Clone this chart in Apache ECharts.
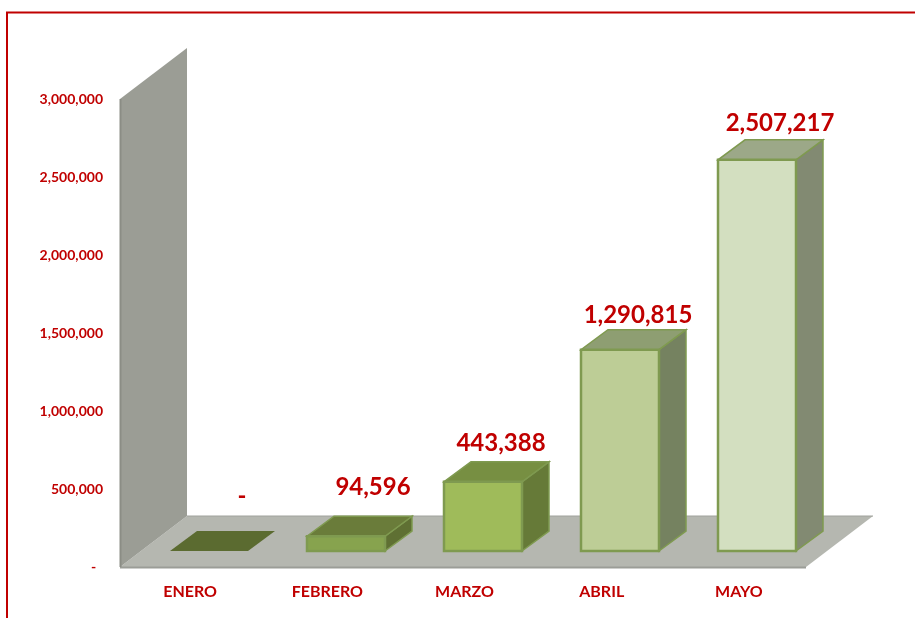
<!DOCTYPE html>
<html>
<head>
<meta charset="utf-8">
<style>
  html, body { margin: 0; padding: 0; background: #fff; }
  #chart { width: 915px; height: 618px; }
</style>
</head>
<body>
<div id="chart"></div>
<script src="https://cdn.jsdelivr.net/npm/echarts@6/dist/echarts.min.js"></script>
<script>
const months = ['ENERO', 'FEBRERO', 'MARZO', 'ABRIL', 'MAYO']
const values = [0, 94596, 443388, 1290815, 2507217]
const valueLabels = ['-', '94,596', '443,388', '1,290,815', '2,507,217']
const yTicks = [0, 500000, 1000000, 1500000, 2000000, 2500000, 3000000]

const RED = '#c00000'
const FONT = 'Lato, "Open Sans", sans-serif'

// colours per bar: front, top, side
const frontColors = ['#5b6b30', '#87a34e', '#9fbb5a', '#bdcd96', '#d3dfc0']
const topColors = ['#5b6b30', '#6a7c3a', '#778f42', '#8e9e72', '#9ca888']
const sideColors = ['#5b6b30', '#5f7033', '#667a38', '#758260', '#828a72']
const edgeColor = '#7f9a50'

// fake 3d offsets, in px
const floorDepth = { x: 67, y: 51 }
const barDepth = { x: 27, y: 20 }
const barLift = 16
const barShift = 20
const barWidth = 78
const labelShift = [33, 27, 18, 18, 23]
const labelGap = [35, 29, 19, 14, 17]

function poly(points, fill, stroke, lineWidth) {
  return {
    type: 'polygon',
    shape: { points: points },
    style: { fill: fill, stroke: stroke || null, lineWidth: lineWidth || 0 }
  }
}

function renderRoom(params) {
  const g = params.coordSys
  const left = g.x
  const right = g.x + g.width
  const top = g.y
  const bottom = g.y + g.height
  const dx = floorDepth.x
  const dy = floorDepth.y
  return {
    type: 'group',
    children: [
      poly([[left, bottom], [right, bottom], [right + dx, bottom - dy], [left + dx, bottom - dy]], '#b5b7b0'),
      poly([[left, bottom], [left, top], [left + dx, top - dy], [left + dx, bottom - dy]], '#9b9d95'),
      { type: 'line', shape: { x1: left + dx, y1: bottom - dy, x2: right + dx, y2: bottom - dy }, style: { stroke: '#a0a29c', lineWidth: 1 } },
      { type: 'line', shape: { x1: left, y1: bottom + 0.5, x2: right, y2: bottom + 0.5 }, style: { stroke: '#9b9d97', lineWidth: 2 } },
      { type: 'line', shape: { x1: left + 0.5, y1: bottom, x2: left + 0.5, y2: top }, style: { stroke: '#8b8d85', lineWidth: 2 } }
    ]
  }
}

function renderBar(params, api) {
  const i = params.dataIndex
  const pt = api.coord([api.value(0), api.value(1)])
  const x0 = Math.round(pt[0] + barShift - barWidth / 2)
  const x1 = x0 + barWidth
  const yTop = pt[1] - barLift
  const yBase = api.coord([api.value(0), 0])[1] - barLift
  const dx = barDepth.x
  const dy = barDepth.y
  const children = []
  const flat = yBase - yTop < 1
  if (!flat) {
    children.push(poly([[x1, yBase], [x1 + dx, yBase - dy], [x1 + dx, yTop - dy], [x1, yTop]], sideColors[i], edgeColor, 1.5))
  }
  children.push(poly([[x0, yTop], [x1, yTop], [x1 + dx, yTop - dy], [x0 + dx, yTop - dy]], topColors[i], flat ? null : edgeColor, 1.5))
  if (!flat) {
    children.push(poly([[x0, yBase], [x1, yBase], [x1, yTop], [x0, yTop]], frontColors[i], edgeColor, 2.5))
  }
  children.push({
    type: 'text',
    style: {
      x: x0 + barWidth / 2 + labelShift[i],
      y: yTop - dy - labelGap[i],
      text: valueLabels[i],
      fill: RED,
      font: 'bold 24px ' + FONT,
      align: 'center',
      verticalAlign: 'middle'
    }
  })
  return { type: 'group', children: children }
}

const chart = echarts.init(document.getElementById('chart'), null, { renderer: 'canvas' })
chart.setOption({
  animation: false,
  backgroundColor: '#fff',
  grid: { left: 120, right: 109, top: 99, bottom: 51 },
  xAxis: {
    type: 'category',
    data: months,
    axisLine: { show: false },
    axisTick: { show: false },
    axisLabel: { color: RED, fontFamily: FONT, fontWeight: 'bold', fontSize: 16, margin: 17, padding: [0, 0, 0, 3] }
  },
  yAxis: {
    type: 'value',
    min: 0,
    max: 3000000,
    interval: 500000,
    splitLine: { show: false },
    axisLine: { show: false },
    axisTick: { show: false },
    axisLabel: {
      color: RED,
      fontFamily: FONT,
      fontWeight: 'bold',
      fontSize: 14,
      margin: 17,
      padding: [6, 0, 0, 0],
      formatter: function (v) {
        return yTicks.indexOf(v) === 0 ? '-\u00a0\u00a0' : v.toLocaleString('en-US')
      }
    }
  },
  graphic: [
    {
      type: 'polyline',
      silent: true,
      shape: { points: [[7, 618], [7, 12.5], [915, 12.5]] },
      style: { stroke: RED, fill: null, lineWidth: 2 }
    }
  ],
  series: [
    {
      type: 'custom',
      renderItem: renderRoom,
      data: [[0, 0]],
      silent: true,
      z: 1
    },
    {
      type: 'custom',
      renderItem: renderBar,
      encode: { x: 0, y: 1 },
      data: values.map(function (v, i) { return [i, v] }),
      z: 2
    }
  ]
})
</script>
</body>
</html>
